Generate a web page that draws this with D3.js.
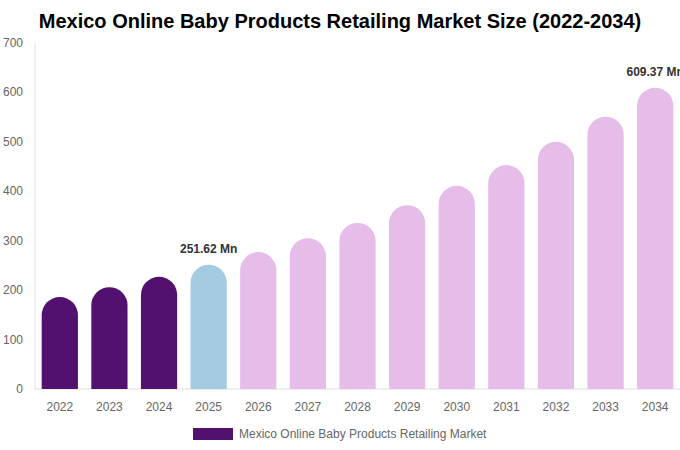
<!DOCTYPE html>
<html>
<head>
<meta charset="utf-8">
<script src="https://cdn.jsdelivr.net/npm/d3@7"></script>
<style>
	body { margin: 0; background: #fff; }
	text { font-family: "Liberation Sans", Arial, sans-serif; }
</style>
</head>
<body>
<div id="chart"></div>
<script>
	// Chart data
	var years = ['2022', '2023', '2024', '2025', '2026', '2027', '2028', '2029', '2030', '2031', '2032', '2033', '2034'];
	var values = [186, 206, 227, 251.62, 277, 305, 336, 372, 411, 453, 500, 551, 609.37];
	var yTicks = [0, 100, 200, 300, 400, 500, 600, 700];
	var labelled = {'2025': '251.62 Mn', '2034': '609.37 Mn'};
	var seriesName = 'Mexico Online Baby Products Retailing Market';

	var width = 680,
		height = 450,
		margin = {top: 43, right: 0, bottom: 61, left: 35};

	var svg = d3.select('#chart').append('svg')
		.attr('width', width)
		.attr('height', height);

	var x = d3.scaleBand()
		.domain(years)
		.range([margin.left, width - margin.right])
		.paddingInner(0.27)
		.paddingOuter(0.135);

	var y = d3.scaleLinear()
		.domain([0, 700])
		.range([height - margin.bottom, margin.top]);

	function barColor(year) {
		if (+year < 2025) return '#52116f';
		if (+year === 2025) return '#a4cbe0';
		return '#e6bce8';
	}

	// rounded top, square bottom
	function barPath(d, i) {
		var x0 = x(years[i]),
			w = x.bandwidth(),
			r = w / 2,
			top = y(d),
			base = y(0);
		return 'M' + x0 + ',' + base +
			'V' + (top + r) +
			'A' + r + ',' + r + ' 0 0 1 ' + (x0 + w) + ',' + (top + r) +
			'V' + base + 'Z';
	}

	// Title
	svg.append('text')
		.attr('x', 340)
		.attr('y', 28)
		.attr('text-anchor', 'middle')
		.style('font-size', '20px')
		.style('font-weight', 'bold')
		.style('fill', '#000')
		.text('Mexico Online Baby Products Retailing Market Size (2022-2034)');

	// Axis lines
	svg.append('line')
		.attr('x1', margin.left).attr('x2', margin.left)
		.attr('y1', margin.top).attr('y2', y(0))
		.attr('stroke', '#e0e0e0');

	svg.append('line')
		.attr('x1', margin.left).attr('x2', width)
		.attr('y1', y(0)).attr('y2', y(0))
		.attr('stroke', '#dddddd');

	// Y ticks
	svg.selectAll('text.ytick')
		.data(yTicks)
		.enter().append('text')
		.attr('class', 'ytick')
		.attr('x', 23)
		.attr('y', function (d) { return y(d) + 4; })
		.attr('text-anchor', 'end')
		.style('font-size', '12px')
		.style('fill', '#666')
		.text(function (d) { return d; });

	// X ticks
	svg.selectAll('text.xtick')
		.data(years)
		.enter().append('text')
		.attr('class', 'xtick')
		.attr('x', function (d) { return x(d) + x.bandwidth() / 2; })
		.attr('y', y(0) + 22)
		.attr('text-anchor', 'middle')
		.style('font-size', '12px')
		.style('fill', '#666')
		.text(function (d) { return d; });

	// Bars
	svg.selectAll('path.bar')
		.data(values)
		.enter().append('path')
		.attr('class', 'bar')
		.attr('d', barPath)
		.attr('fill', function (d, i) { return barColor(years[i]); });

	// Value labels
	svg.selectAll('text.vlabel')
		.data(years.filter(function (yr) { return labelled[yr]; }))
		.enter().append('text')
		.attr('class', 'vlabel')
		.attr('x', function (d) { return x(d) + x.bandwidth() / 2; })
		.attr('y', function (d) { return y(values[years.indexOf(d)]) - 12; })
		.attr('text-anchor', 'middle')
		.style('font-size', '12px')
		.style('font-weight', 'bold')
		.style('fill', '#333')
		.text(function (d) { return labelled[d]; });

	// Legend
	var legend = svg.append('g').attr('transform', 'translate(193,428)');
	legend.append('rect')
		.attr('width', 40)
		.attr('height', 12)
		.attr('fill', '#52116f');
	legend.append('text')
		.attr('x', 46)
		.attr('y', 10)
		.style('font-size', '12px')
		.style('fill', '#666')
		.text(seriesName);
</script>
</body>
</html>
